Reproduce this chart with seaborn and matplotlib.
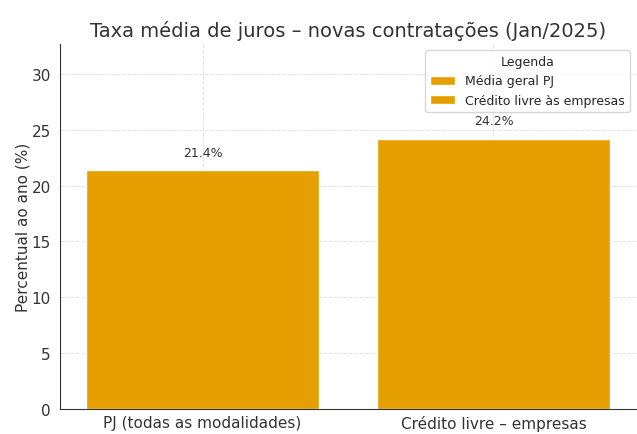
import matplotlib
matplotlib.use("Agg")
import matplotlib.pyplot as plt
import seaborn as sns
import pandas as pd

# Average interest rates for new corporate contracts, Jan/2025
categorias = ["PJ (todas as modalidades)", "Crédito livre – empresas"]
taxas = [21.4, 24.2]
legenda = ["Média geral PJ", "Crédito livre às empresas"]
cor = "#E69F00"

df = pd.DataFrame({"categoria": categorias, "taxa": taxas})

sns.set_style("whitegrid", {"grid.linestyle": "--", "grid.color": "#dddddd"})
plt.rcParams["font.family"] = ["DejaVu Sans"]

fig = plt.figure(figsize=(6.37, 4.35), dpi=100)
ax = fig.add_axes([60 / 637, 25 / 435, 576 / 637, 365 / 435])

sns.barplot(data=df, x="categoria", y="taxa", hue="categoria",
            palette=[cor, cor], width=0.8, saturation=1, ax=ax, legend=True)

for i, v in enumerate(taxas):
    ax.text(i, v + 1.0, f"{v:.1f}%", ha="center", va="bottom",
            fontsize=9, color="#333333")

ax.set_ylim(0, max(taxas) * 1.35)
ax.set_xlim(-0.49, 1.49)
ax.set_title("Taxa média de juros – novas contratações (Jan/2025)",
             fontsize=14, color="#333333", pad=6)
ax.set_ylabel("Percentual ao ano (%)", fontsize=11, color="#333333", labelpad=1)
ax.set_xlabel("")
ax.tick_params(axis="both", labelsize=11, colors="#333333", length=3)
ax.tick_params(axis="x", pad=1)
ax.grid(True, axis="both", linestyle="--", color="#e2e2e2", linewidth=0.7)
ax.set_axisbelow(True)
for s in ["top", "right"]:
    ax.spines[s].set_visible(False)
for s in ["left", "bottom"]:
    ax.spines[s].set_color("#333333")

handles, _ = ax.get_legend_handles_labels()
ax.legend(handles, legenda, title="Legenda", fontsize=9, title_fontsize=9,
          loc="upper right", frameon=True)

fig.savefig("out.png", dpi=100)
